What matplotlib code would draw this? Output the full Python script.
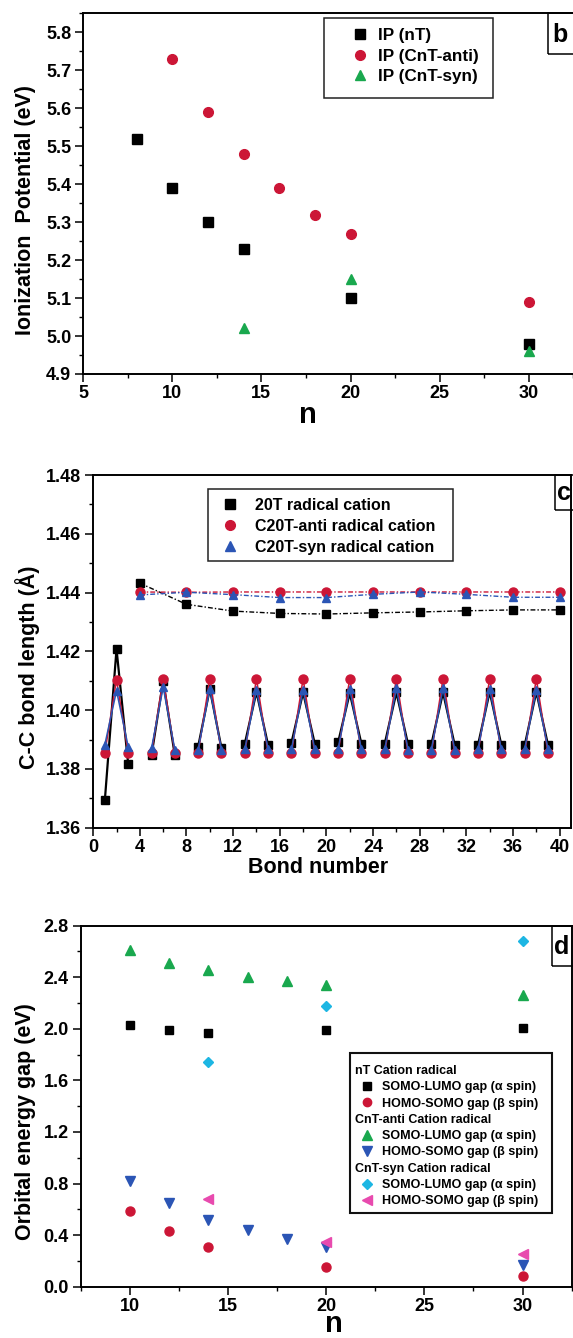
import numpy as np
import matplotlib
matplotlib.use("Agg")
import matplotlib.pyplot as plt
from matplotlib.lines import Line2D
from matplotlib.patches import Rectangle
from matplotlib.ticker import MultipleLocator, FormatStrFormatter

W, H = 573, 1338
plt.rcParams['font.family'] = ['Liberation Sans', 'DejaVu Sans']
plt.rcParams['font.weight'] = 'bold'
plt.rcParams['axes.labelweight'] = 'bold'

BLACK = '#000000'
RED = '#CC1636'
GREEN = '#19A84E'
BLUE = '#2B55B5'
CYAN = '#1DB6E3'
MAGENTA = '#E84AAE'

# ---- (b) ionization potential vs chain length
ip_n_nT = [8, 10, 12, 14, 20, 30]
ip_nT = [5.52, 5.39, 5.30, 5.23, 5.10, 4.98]
ip_n_anti = [10, 12, 14, 16, 18, 20, 30]
ip_anti = [5.73, 5.59, 5.48, 5.39, 5.32, 5.27, 5.09]
ip_n_syn = [14, 20, 30]
ip_syn = [5.02, 5.15, 4.96]

# ---- (c) C-C bond lengths along the 20-mer radical cations
ring_bonds = [1, 2, 3, 5, 6, 7, 9, 10, 11, 13, 14, 15, 17, 18, 19,
              21, 22, 23, 25, 26, 27, 29, 30, 31, 33, 34, 35, 37, 38, 39]
inter_bonds = [4, 8, 12, 16, 20, 24, 28, 32, 36, 40]

ring_20T = [1.3694, 1.4208, 1.3817, 1.3846, 1.4100, 1.3846,
            1.3876, 1.4072, 1.3871, 1.3886, 1.4062, 1.3881,
            1.3889, 1.4060, 1.3886, 1.3890, 1.4058, 1.3886,
            1.3886, 1.4060, 1.3884, 1.3884, 1.4060, 1.3882,
            1.3882, 1.4062, 1.3882, 1.3880, 1.4062, 1.3882]
ring_anti = [1.3855, 1.4104, 1.3855, 1.3855, 1.4106, 1.3855,
             1.3854, 1.4107, 1.3854, 1.3854, 1.4107, 1.3854,
             1.3854, 1.4107, 1.3854, 1.3854, 1.4107, 1.3854,
             1.3854, 1.4107, 1.3854, 1.3854, 1.4107, 1.3854,
             1.3854, 1.4107, 1.3854, 1.3854, 1.4107, 1.3854]
ring_syn = [1.3883, 1.4066, 1.3876, 1.3870, 1.4078, 1.3866,
            1.3866, 1.4072, 1.3866, 1.3867, 1.4070, 1.3867,
            1.3867, 1.4070, 1.3867, 1.3867, 1.4072, 1.3867,
            1.3867, 1.4075, 1.3866, 1.3866, 1.4074, 1.3866,
            1.3867, 1.4072, 1.3867, 1.3868, 1.4070, 1.3868]

inter_20T = [1.4432, 1.4360, 1.4337, 1.4329, 1.4327,
             1.4331, 1.4334, 1.4338, 1.4341, 1.4341]
inter_anti = [1.4402, 1.4401, 1.4402, 1.4402, 1.4402,
              1.4402, 1.4402, 1.4402, 1.4402, 1.4402]
inter_syn = [1.4392, 1.4401, 1.4393, 1.4383, 1.4383,
             1.4394, 1.4402, 1.4394, 1.4384, 1.4384]

# ---- (d) orbital energy gaps of the radical cations
gap_n_nT = [10, 12, 14, 20, 30]
gap_nT_alpha = [2.03, 1.99, 1.97, 1.99, 2.01]
gap_nT_beta = [0.59, 0.43, 0.31, 0.15, 0.08]
gap_n_anti = [10, 12, 14, 16, 18, 20, 30]
gap_anti_alpha = [2.61, 2.51, 2.46, 2.40, 2.37, 2.34, 2.26]
gap_anti_beta = [0.82, 0.65, 0.52, 0.44, 0.37, 0.31, 0.17]
gap_n_syn = [14, 20, 30]
gap_syn_alpha = [1.74, 2.18, 2.68]
gap_syn_beta = [0.68, 0.35, 0.25]

fig = plt.figure(figsize=(W / 100, H / 100), dpi=100)


def fx(x):
    return x / W


def fy(y):
    return 1 - y / H


def axes_px(left, right, top, bottom):
    return fig.add_axes([fx(left), fy(bottom), (right - left) / W, (bottom - top) / H])


def style_axes(ax, xmaj, xmin, ymaj, ymin, yfmt):
    for s in ax.spines.values():
        s.set_linewidth(1.4)
    ax.xaxis.set_major_locator(MultipleLocator(xmaj))
    ax.xaxis.set_minor_locator(MultipleLocator(xmin))
    ax.yaxis.set_major_locator(MultipleLocator(ymaj))
    ax.yaxis.set_minor_locator(MultipleLocator(ymin))
    ax.yaxis.set_major_formatter(FormatStrFormatter(yfmt))
    ax.tick_params(which='major', direction='out', length=5.5, width=1.1,
                   labelsize=13, pad=2.5)
    ax.tick_params(which='minor', direction='out', length=3, width=1.0)
    ax.tick_params(axis='y', which='major', pad=3)


def label_px(ax, xlabel, xl_pos, ylabel, yl_pos, xsize, ysize=15.5, xva='baseline'):
    ax.set_xlabel(xlabel, fontsize=xsize)
    ax.xaxis.set_label_coords(fx(xl_pos[0]), fy(xl_pos[1]), transform=fig.transFigure)
    ax.xaxis.label.set_va(xva)
    ax.set_ylabel(ylabel, fontsize=ysize)
    ax.yaxis.set_label_coords(fx(yl_pos[0]), fy(yl_pos[1]), transform=fig.transFigure)
    ax.yaxis.label.set_va('center')


def panel_tag(letter, left, top, bottom, text_x):
    fig.patches.append(Rectangle((fx(left), fy(bottom)), fx(40), fy(top) - fy(bottom),
                                 transform=fig.transFigure, fill=False,
                                 edgecolor='black', linewidth=1.1, zorder=5))
    fig.text(fx(text_x), fy((top + bottom) / 2 + 1), letter, fontsize=18,
             ha='left', va='center', zorder=6)


def legend_frame(left, top, right, bottom, lw=1.1, color='#222222'):
    fig.patches.append(Rectangle((fx(left), fy(bottom)), fx(right - left), fy(top) - fy(bottom),
                                 transform=fig.transFigure, fill=False,
                                 edgecolor=color, linewidth=lw, zorder=4))


# ================= panel b =================
axb = axes_px(83, 577, 13.3, 374)
axb.plot(ip_n_nT, ip_nT, ls='none', marker='s', ms=6.5, color=BLACK, label='IP (nT)')
axb.plot(ip_n_anti, ip_anti, ls='none', marker='o', ms=7, color=RED, label='IP (CnT-anti)')
axb.plot(ip_n_syn, ip_syn, ls='none', marker='^', ms=7.5, color=GREEN, label='IP (CnT-syn)')
axb.set_xlim(5, 32.7)
axb.set_ylim(4.9, 5.85)
style_axes(axb, 5, 2.5, 0.1, 0.05, '%.1f')
label_px(axb, 'n', (308, 422.7), 'Ionization  Potential (eV)', (25.6, 210), 21)

fs_b = 12.3
legend_frame(324, 18.3, 493.3, 97.7)
axb.legend(loc='upper left', bbox_to_anchor=(fx(360 - 8.55), fy(28)),
           bbox_transform=fig.transFigure, frameon=False, borderpad=0, borderaxespad=0,
           fontsize=fs_b, handlelength=1.0, handletextpad=0.56, labelspacing=0.33,
           markerscale=1.0)
panel_tag('b', 547.7, 13.3, 54, 552.5)

# ================= panel c =================
axc = axes_px(93.2, 571.3, 475, 827.7)
ring_sets = [(ring_20T, inter_20T, BLACK, 's', 6.0, 1.6),
             (ring_anti, inter_anti, RED, 'o', 6.5, 1.1),
             (ring_syn, inter_syn, BLUE, '^', 6.0, 1.1)]
names_c = ['20T radical cation', 'C20T-anti radical cation', 'C20T-syn radical cation']
for k, (ring_vals, inter_vals, col, mk, ms, lw) in enumerate(ring_sets):
    z = 2 + k * 0.1
    for r in range(0, len(ring_bonds), 3):
        axc.plot(ring_bonds[r:r + 3], ring_vals[r:r + 3], color=col, lw=lw,
                 marker=mk, ms=ms, zorder=z)
    axc.plot(inter_bonds, inter_vals, color=col, lw=1.0, dashes=(3.5, 1.5, 1, 1.5),
             marker=mk, ms=ms, zorder=z, label=names_c[k])
axc.set_xlim(0, 41)
axc.set_ylim(1.36, 1.48)
style_axes(axc, 4, 2, 0.02, 0.01, '%.2f')
label_px(axc, 'Bond number', (318, 873), 'C-C bond length (Å)', (27.4, 667.5), 15.5)

fs_c = 11.5
legend_frame(207.6, 489.3, 453, 560.7)
handles_c = [Line2D([], [], ls='none', marker=m, ms=7, color=c)
             for m, c in zip(['s', 'o', '^'], [BLACK, RED, BLUE])]
axc.legend(handles_c, names_c, loc='upper left', bbox_to_anchor=(fx(230 - 8), fy(497.6)),
           bbox_transform=fig.transFigure, frameon=False, borderpad=0, borderaxespad=0,
           fontsize=fs_c, handlelength=1.0, handletextpad=1.04, labelspacing=0.39)
panel_tag('c', 554.7, 475, 510, 557)

# ================= panel d =================
axd = axes_px(80.6, 571.6, 925.7, 1286.7)
axd.plot(gap_n_nT, gap_nT_alpha, ls='none', marker='s', ms=6, color=BLACK)
axd.plot(gap_n_nT, gap_nT_beta, ls='none', marker='o', ms=6.5, color=RED)
axd.plot(gap_n_anti, gap_anti_alpha, ls='none', marker='^', ms=7, color=GREEN)
axd.plot(gap_n_anti, gap_anti_beta, ls='none', marker='v', ms=7, color=BLUE)
axd.plot(gap_n_syn, gap_syn_alpha, ls='none', marker='D', ms=5.5, color=CYAN)
axd.plot(gap_n_syn, gap_syn_beta, ls='none', marker='<', ms=7, color=MAGENTA)
axd.set_xlim(7.5, 32.5)
axd.set_ylim(0, 2.8)
style_axes(axd, 5, 2.5, 0.4, 0.2, '%.1f')
label_px(axd, 'n', (334, 1337.5), 'Orbital energy gap (eV)', (25.6, 1122), 21, xva='bottom')

fs_d = 9
legend_frame(350, 1052.7, 551.8, 1212.7, lw=1.5, color='#111111')
blank = Line2D([], [], ls='none', marker='')
hd = [blank,
      Line2D([], [], ls='none', marker='s', ms=5.5, color=BLACK),
      Line2D([], [], ls='none', marker='o', ms=6, color=RED),
      blank,
      Line2D([], [], ls='none', marker='^', ms=6.5, color=GREEN),
      Line2D([], [], ls='none', marker='v', ms=6.5, color=BLUE),
      blank,
      Line2D([], [], ls='none', marker='D', ms=5, color=CYAN),
      Line2D([], [], ls='none', marker='<', ms=6.5, color=MAGENTA)]
ld = ['nT Cation radical',
      'SOMO-LUMO gap (α spin)', 'HOMO-SOMO gap (β spin)',
      'CnT-anti Cation radical',
      'SOMO-LUMO gap (α spin)', 'HOMO-SOMO gap (β spin)',
      'CnT-syn Cation radical',
      'SOMO-LUMO gap (α spin)', 'HOMO-SOMO gap (β spin)']
is_header = [True, False, False, True, False, False, True, False, False]
legd = axd.legend(hd, ld, loc='upper left', bbox_to_anchor=(fx(353.7), fy(1065.2)),
                  bbox_transform=fig.transFigure, frameon=False, borderpad=0,
                  borderaxespad=0, fontsize=fs_d, handlelength=2.18,
                  handletextpad=0.07, labelspacing=0.34)
# headers sit flush left: collapse their (empty) handle boxes
try:
    items = []
    for col in legd._legend_handle_box.get_children():
        items.extend(col.get_children())
    for item, hdr in zip(items, is_header):
        if hdr:
            item.get_children()[0].width = 0
except Exception:
    pass
panel_tag('d', 551.8, 925.7, 966, 554)

fig.savefig('out.png', dpi=100)
